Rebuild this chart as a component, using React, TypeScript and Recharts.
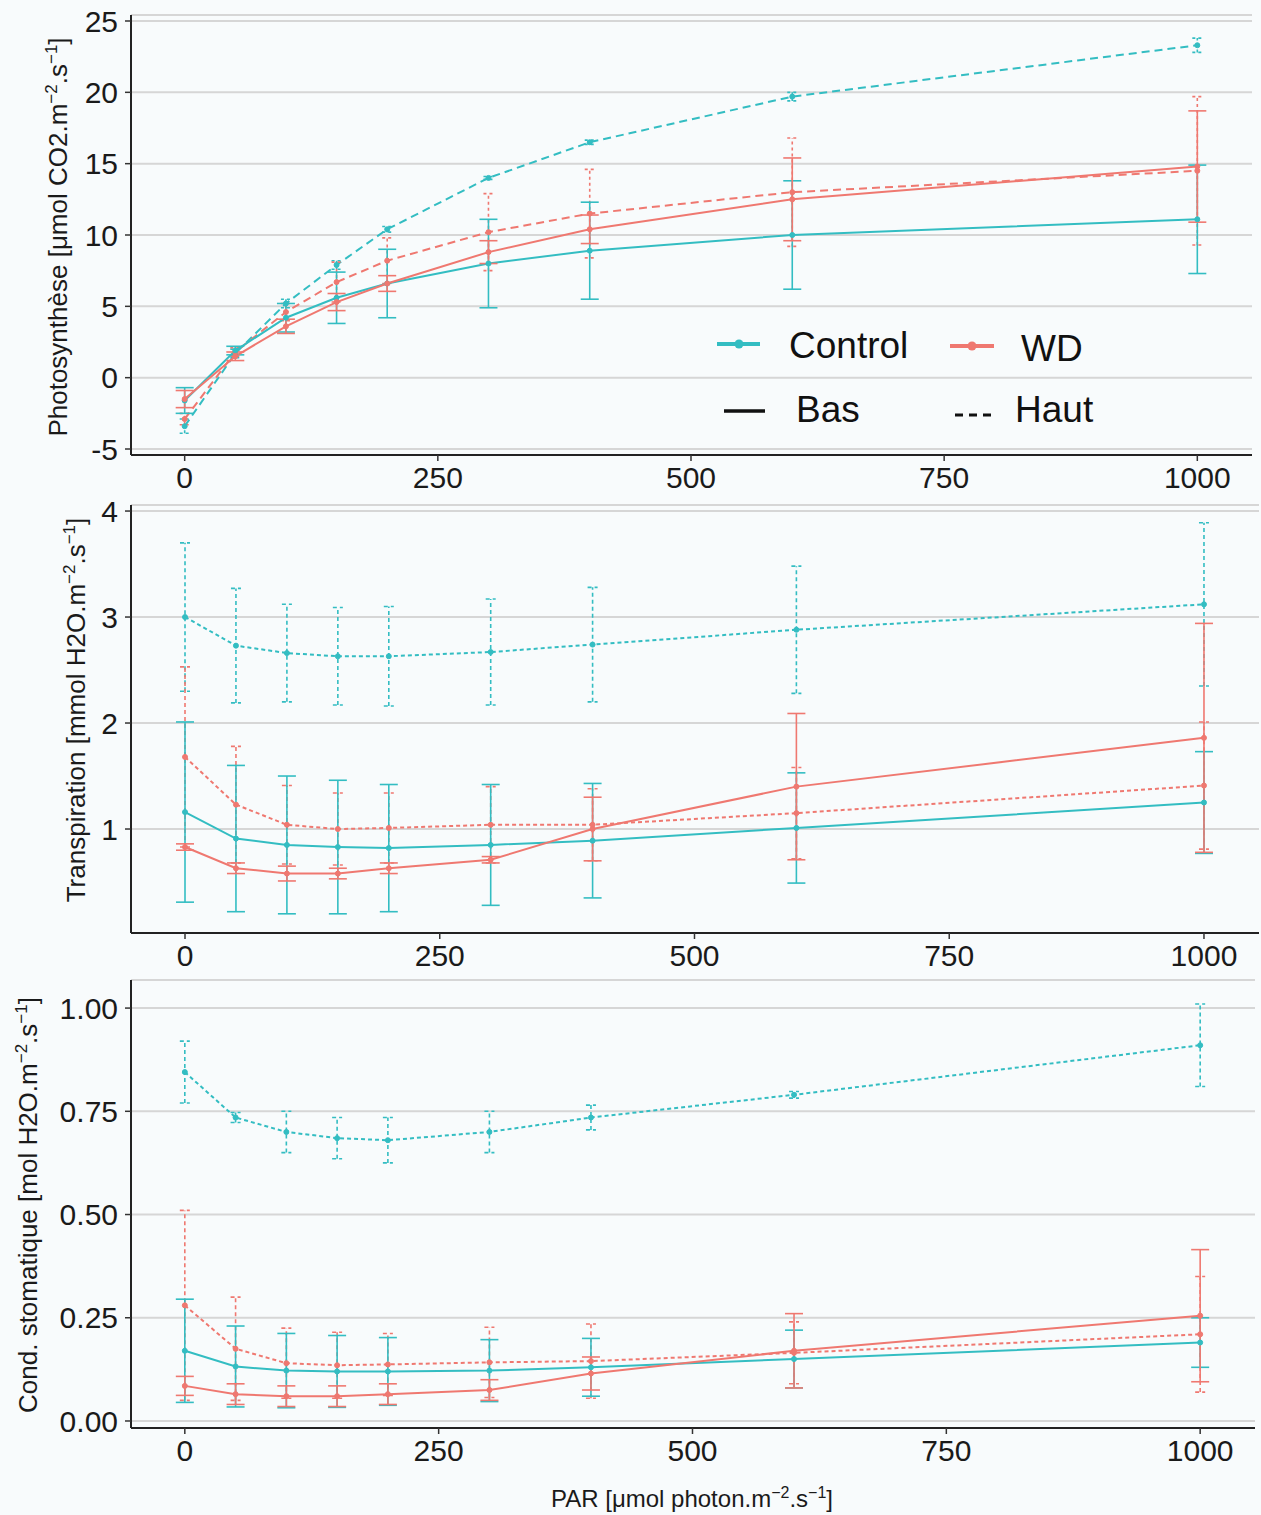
import React from 'react';
import { LineChart, Line, XAxis, YAxis, CartesianGrid, ErrorBar } from 'recharts';

const PAR = [0, 50, 100, 150, 200, 300, 400, 600, 1000];
const X_TICKS = [0, 250, 500, 750, 1000];

// Photosynthèse
const A_CTRL_BAS = [-1.6, 1.9, 4.2, 5.6, 6.6, 8.0, 8.9, 10.0, 11.1];
const A_CTRL_BAS_SE = [0.9, 0.3, 1.0, 1.8, 2.4, 3.1, 3.4, 3.8, 3.8];
const A_CTRL_HAUT = [-3.4, 1.7, 5.2, 7.9, 10.4, 14.0, 16.5, 19.7, 23.3];
const A_CTRL_HAUT_SE = [0.5, 0.3, 0.3, 0.3, 0.2, 0.1, 0.15, 0.3, 0.5];
const A_WD_BAS = [-1.5, 1.5, 3.6, 5.3, 6.6, 8.8, 10.4, 12.5, 14.8];
const A_WD_BAS_SE = [0.6, 0.3, 0.5, 0.6, 0.55, 0.8, 1.0, 2.9, 3.9];
const A_WD_HAUT = [-2.9, 1.8, 4.6, 6.7, 8.2, 10.2, 11.5, 13.0, 14.5];
const A_WD_HAUT_SE = [0.4, 0.3, 0.6, 1.4, 1.6, 2.7, 3.1, 3.8, 5.2];
const A_TICKS = [-5, 0, 5, 10, 15, 20, 25];

// Transpiration
const E_CTRL_BAS = [1.16, 0.91, 0.85, 0.83, 0.82, 0.85, 0.89, 1.01, 1.25];
const E_CTRL_BAS_SE = [0.85, 0.69, 0.65, 0.63, 0.6, 0.57, 0.54, 0.52, 0.48];
const E_CTRL_HAUT = [3.0, 2.73, 2.66, 2.63, 2.63, 2.67, 2.74, 2.88, 3.12];
const E_CTRL_HAUT_SE = [0.7, 0.54, 0.46, 0.46, 0.47, 0.5, 0.54, 0.6, 0.77];
const E_WD_BAS = [0.83, 0.63, 0.58, 0.58, 0.63, 0.71, 1.0, 1.4, 1.86];
const E_WD_BAS_SE = [0.03, 0.05, 0.07, 0.05, 0.05, 0.03, 0.3, 0.69, 1.08];
const E_WD_HAUT = [1.68, 1.23, 1.04, 1.0, 1.01, 1.04, 1.04, 1.15, 1.41];
const E_WD_HAUT_SE = [0.85, 0.55, 0.37, 0.34, 0.33, 0.36, 0.34, 0.43, 0.6];
const E_TICKS = [1, 2, 3, 4];

// Conductance stomatique
const G_CTRL_BAS = [0.17, 0.132, 0.122, 0.12, 0.12, 0.122, 0.13, 0.15, 0.19];
const G_CTRL_BAS_SE = [0.125, 0.098, 0.09, 0.087, 0.082, 0.075, 0.07, 0.07, 0.06];
const G_CTRL_HAUT = [0.845, 0.735, 0.7, 0.685, 0.68, 0.7, 0.735, 0.79, 0.91];
const G_CTRL_HAUT_SE = [0.075, 0.012, 0.05, 0.05, 0.055, 0.05, 0.03, 0.008, 0.1];
const G_WD_BAS = [0.085, 0.065, 0.06, 0.06, 0.065, 0.075, 0.115, 0.17, 0.255];
const G_WD_BAS_SE = [0.023, 0.025, 0.025, 0.025, 0.025, 0.025, 0.04, 0.09, 0.16];
const G_WD_HAUT = [0.28, 0.175, 0.14, 0.135, 0.137, 0.142, 0.145, 0.165, 0.21];
const G_WD_HAUT_SE = [0.23, 0.125, 0.085, 0.08, 0.075, 0.085, 0.09, 0.075, 0.14];
const G_TICKS = [0, 0.25, 0.5, 0.75, 1.0];

const TEAL = '#33bdc2';
const RED = '#ef7870';
const BG = '#f8fbfc';
const FONT = '"Liberation Sans", Arial, Helvetica, sans-serif';

function buildRows(cb: number[], cbe: number[], ch: number[], che: number[], wb: number[], wbe: number[], wh: number[], whe: number[]) {
  return PAR.map((p, i) => ({
    par: p,
    cb: cb[i], cbE: cbe[i],
    ch: ch[i], chE: che[i],
    wb: wb[i], wbE: wbe[i],
    wh: wh[i], whE: whe[i],
  }));
}

const A_DATA = buildRows(A_CTRL_BAS, A_CTRL_BAS_SE, A_CTRL_HAUT, A_CTRL_HAUT_SE, A_WD_BAS, A_WD_BAS_SE, A_WD_HAUT, A_WD_HAUT_SE);
const E_DATA = buildRows(E_CTRL_BAS, E_CTRL_BAS_SE, E_CTRL_HAUT, E_CTRL_HAUT_SE, E_WD_BAS, E_WD_BAS_SE, E_WD_HAUT, E_WD_HAUT_SE);
const G_DATA = buildRows(G_CTRL_BAS, G_CTRL_BAS_SE, G_CTRL_HAUT, G_CTRL_HAUT_SE, G_WD_BAS, G_WD_BAS_SE, G_WD_HAUT, G_WD_HAUT_SE);

const makeYTitle = (pre: string, cx: number, shift: number) => (props: any) => {
  const vb = props.viewBox || { x: 0, y: 0, width: 0, height: 0 };
  const cy = vb.y + vb.height / 2 + shift;
  return (
    <text transform={`translate(${cx},${cy}) rotate(-90)`} textAnchor="middle" fontSize={26} fill="#1a1a1a" fontFamily={FONT}>
      {pre}.m<tspan dy={-10} fontSize={17}>−2</tspan>
      <tspan dy={10}>.s</tspan>
      <tspan dy={-10} fontSize={17}>−1</tspan>
      <tspan dy={10}>]</tspan>
    </text>
  );
};

const xTitle = (props: any) => {
  const vb = props.viewBox || { x: 0, y: 0, width: 0, height: 0 };
  return (
    <text x={692} y={vb.y + 79} textAnchor="middle" fontSize={24} fill="#1a1a1a" fontFamily={FONT}>
      PAR [μmol photon.m<tspan dy={-9} fontSize={16}>−2</tspan>
      <tspan dy={9}>.s</tspan>
      <tspan dy={-9} fontSize={16}>−1</tspan>
      <tspan dy={9}>]</tspan>
    </text>
  );
};

type PanelProps = {
  data: any[];
  top: number;
  height: number;
  marginRight: number;
  marginBottom: number;
  domain: [number, number];
  ticks: number[];
  tickFmt?: (v: number) => string;
  yTitle: (p: any) => any;
  hautDash: string;
  hautErrDash: string;
  xAxisHeight: number;
  xLabel?: (p: any) => any;
};

function Panel(p: PanelProps) {
  const tickStyle = { fontSize: 30, fill: '#1a1a1a', fontFamily: FONT };
  const series = [
    { key: 'ch', err: 'chE', color: TEAL, dash: p.hautDash, errDash: p.hautErrDash, w: 5 },
    { key: 'wh', err: 'whE', color: RED, dash: p.hautDash, errDash: p.hautErrDash, w: 5 },
    { key: 'cb', err: 'cbE', color: TEAL, dash: undefined, errDash: undefined, w: 9 },
    { key: 'wb', err: 'wbE', color: RED, dash: undefined, errDash: undefined, w: 9 },
  ];
  return (
    <div style={{ position: 'absolute', left: 0, top: p.top }}>
      <LineChart width={1261} height={p.height} data={p.data} margin={{ top: 15, right: p.marginRight, bottom: p.marginBottom, left: 0 }}>
        <CartesianGrid vertical={false} horizontal={true} stroke="#d6d6d6" strokeWidth={2} />
        <XAxis
          dataKey="par"
          type="number"
          domain={[-53, 1054]}
          ticks={X_TICKS}
          allowDataOverflow
          height={p.xAxisHeight}
          tick={tickStyle}
          tickSize={6}
          tickMargin={6}
          tickLine={{ stroke: '#333', strokeWidth: 1.5 }}
          axisLine={{ stroke: '#222', strokeWidth: 2 }}
          label={p.xLabel ? { content: p.xLabel } : undefined}
        />
        <YAxis
          type="number"
          domain={p.domain}
          ticks={p.ticks}
          allowDataOverflow
          width={131}
          tick={tickStyle}
          tickFormatter={p.tickFmt}
          tickSize={6}
          tickMargin={7}
          tickLine={{ stroke: '#333', strokeWidth: 1.5 }}
          axisLine={{ stroke: '#222', strokeWidth: 2 }}
          label={{ content: p.yTitle }}
        />
        {series.map((s) => (
          <Line
            key={s.key}
            type="linear"
            dataKey={s.key}
            stroke={s.color}
            strokeWidth={2}
            strokeDasharray={s.dash}
            dot={{ r: 2.5, fill: s.color, stroke: s.color, strokeWidth: 1, strokeDasharray: '' }}
            activeDot={false}
            isAnimationActive={false}
          >
            <ErrorBar
              dataKey={s.err}
              direction="y"
              width={s.w}
              stroke={s.color}
              strokeWidth={1.6}
              strokeDasharray={s.errDash}
              isAnimationActive={false}
            />
          </Line>
        ))}
      </LineChart>
    </div>
  );
}

function LegendOverlay() {
  return (
    <svg width={1261} height={490} style={{ position: 'absolute', left: 0, top: 0, pointerEvents: 'none' }}>
      <g fontFamily={FONT} fill="#111">
        <line x1={717} y1={344} x2={760} y2={344} stroke={TEAL} strokeWidth={4} />
        <circle cx={739} cy={344} r={4.5} fill={TEAL} />
        <text x={789} y={358} fontSize={37}>Control</text>
        <line x1={950} y1={346} x2={994} y2={346} stroke={RED} strokeWidth={4} />
        <circle cx={972} cy={346} r={4.5} fill={RED} />
        <text x={1021} y={361} fontSize={37}>WD</text>
        <line x1={724} y1={411} x2={765} y2={411} stroke="#111" strokeWidth={3.5} />
        <text x={796} y={422} fontSize={37}>Bas</text>
        <line x1={955} y1={415} x2={994} y2={415} stroke="#111" strokeWidth={3} strokeDasharray="8 6" />
        <text x={1015} y={422} fontSize={37}>Haut</text>
      </g>
    </svg>
  );
}

export default function App() {
  return (
    <div style={{ position: 'absolute', left: 0, top: 0, width: 1261, height: 1515, background: BG, fontFamily: FONT, overflow: 'hidden' }}>
      <Panel
        data={A_DATA}
        top={0}
        height={505}
        marginRight={9}
        marginBottom={15}
        domain={[-5.42, 25.42]}
        ticks={A_TICKS}
        yTitle={makeYTitle('Photosynthèse [μmol CO2', 67, 2)}
        hautDash="8 5"
        hautErrDash="3 3"
        xAxisHeight={35}
      />
      <LegendOverlay />
      <Panel
        data={E_DATA}
        top={490}
        height={493}
        marginRight={2}
        marginBottom={15}
        domain={[0.019, 4.057]}
        ticks={E_TICKS}
        yTitle={makeYTitle('Transpiration [mmol H2O', 85, -9)}
        hautDash="4 3"
        hautErrDash="4 3"
        xAxisHeight={35}
      />
      <Panel
        data={G_DATA}
        top={965}
        height={548}
        marginRight={6}
        marginBottom={0}
        domain={[-0.017, 1.068]}
        ticks={G_TICKS}
        tickFmt={(v: number) => v.toFixed(2)}
        yTitle={makeYTitle('Cond. stomatique [mol H2O', 37, 1)}
        hautDash="4 3"
        hautErrDash="4 3"
        xAxisHeight={85}
        xLabel={xTitle}
      />
    </div>
  );
}
